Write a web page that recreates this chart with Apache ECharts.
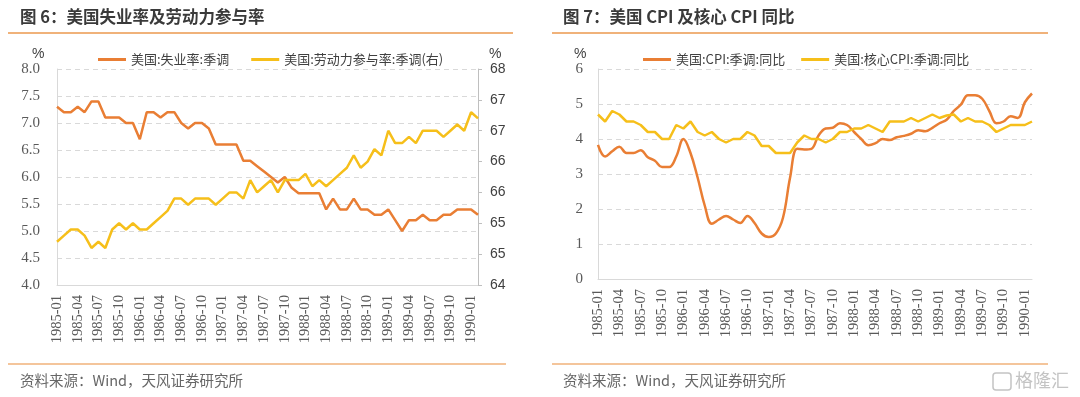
<!DOCTYPE html>
<html>
<head>
<meta charset="utf-8">
<script src="https://cdn.jsdelivr.net/npm/echarts@6/dist/echarts.min.js"></script>
<style>
  html, body { margin: 0; padding: 0; background: #fff; }
  #main { width: 1080px; height: 397px; }
</style>
</head>
<body>
<div id="main"></div>
<script>
// 月度类目 1985-01 ~ 1990-02
const months = [
  "1985-01","1985-02","1985-03","1985-04","1985-05","1985-06","1985-07","1985-08","1985-09","1985-10","1985-11","1985-12",
  "1986-01","1986-02","1986-03","1986-04","1986-05","1986-06","1986-07","1986-08","1986-09","1986-10","1986-11","1986-12",
  "1987-01","1987-02","1987-03","1987-04","1987-05","1987-06","1987-07","1987-08","1987-09","1987-10","1987-11","1987-12",
  "1988-01","1988-02","1988-03","1988-04","1988-05","1988-06","1988-07","1988-08","1988-09","1988-10","1988-11","1988-12",
  "1989-01","1989-02","1989-03","1989-04","1989-05","1989-06","1989-07","1989-08","1989-09","1989-10","1989-11","1989-12",
  "1990-01","1990-02"
];

// 图6
const unemployment = [
  7.3,7.2,7.2,7.3,7.2,7.4,7.4,7.1,7.1,7.1,7.0,7.0,
  6.7,7.2,7.2,7.1,7.2,7.2,7.0,6.9,7.0,7.0,6.9,6.6,
  6.6,6.6,6.6,6.3,6.3,6.2,6.1,6.0,5.9,6.0,5.8,5.7,
  5.7,5.7,5.7,5.4,5.6,5.4,5.4,5.6,5.4,5.4,5.3,5.3,
  5.4,5.2,5.0,5.2,5.2,5.3,5.2,5.2,5.3,5.3,5.4,5.4,
  5.4,5.3
];
const participation = [
  64.7,64.8,64.9,64.9,64.8,64.6,64.7,64.6,64.9,65.0,64.9,65.0,
  64.9,64.9,65.0,65.1,65.2,65.4,65.4,65.3,65.4,65.4,65.4,65.3,
  65.4,65.5,65.5,65.4,65.7,65.5,65.6,65.7,65.5,65.7,65.7,65.7,
  65.8,65.6,65.7,65.6,65.7,65.8,65.9,66.1,65.9,66.0,66.2,66.1,
  66.5,66.3,66.3,66.4,66.3,66.5,66.5,66.5,66.4,66.5,66.6,66.5,
  66.8,66.7
];

// 图7
const cpiYoy = [
  3.83,3.5,3.65,3.78,3.6,3.6,3.68,3.48,3.38,3.2,3.2,3.5,
  4.0,3.6,2.9,2.1,1.58,1.7,1.8,1.7,1.6,1.8,1.6,1.3,
  1.2,1.3,1.75,2.9,3.72,3.7,3.72,4.1,4.3,4.32,4.45,4.4,
  4.2,4.0,3.82,3.88,4.0,3.97,4.05,4.09,4.15,4.25,4.22,4.32,
  4.45,4.55,4.8,4.98,5.25,5.25,5.15,4.8,4.45,4.5,4.65,4.6,
  5.05,5.3
];
const coreCpiYoy = [
  4.7,4.5,4.8,4.7,4.5,4.5,4.4,4.2,4.2,4.0,
  4.0,4.4,4.3,4.5,4.2,4.1,4.2,4.0,3.9,4.0,
  4.0,4.2,4.1,3.8,3.8,3.6,3.6,3.6,3.9,4.1,
  4.0,4.0,3.9,4.0,4.2,4.2,4.3,4.3,4.4,4.3,
  4.2,4.5,4.5,4.5,4.6,4.5,4.6,4.7,4.6,4.67,
  4.7,4.5,4.6,4.5,4.5,4.4,4.2,4.3,4.4,4.4,
  4.4,4.5
];

const ORANGE = "#E97E34";
const YELLOW = "#F6BF1A";
const GRID_LINE = "#D9D9D9";
const SERIF = "Liberation Serif";
const CJK = "Noto Sans CJK SC";

function xAxisFor(gridIndex) {
  return {
    type: "category",
    gridIndex: gridIndex,
    data: months,
    boundaryGap: false,
    axisLine: { lineStyle: { color: GRID_LINE } },
    axisTick: { show: false },
    axisLabel: {
      interval: 2,
      rotate: 90,
      margin: 10,
      color: "#595959",
      fontFamily: SERIF,
      fontSize: 14.5
    }
  };
}

const dashed = { show: true, lineStyle: { color: GRID_LINE, type: [5, 4], width: 1 } };
const legendText = { fontFamily: CJK, fontSize: 13, color: "#404040" };

let myChart = echarts.init(document.getElementById("main"));
myChart.setOption({
  animation: false,
  textStyle: { fontFamily: CJK },
  grid: [
    { left: 57, right: 602, top: 69, bottom: 112 },
    { left: 598, right: 48, top: 69, bottom: 118 }
  ],
  legend: [
    {
      left: 93, top: 48, icon: "rect", itemWidth: 28, itemHeight: 3, itemGap: 22,
      data: ["美国:失业率:季调", "美国:劳动力参与率:季调(右)"], textStyle: legendText
    },
    {
      left: 638, top: 48, icon: "rect", itemWidth: 28, itemHeight: 3, itemGap: 16,
      data: ["美国:CPI:季调:同比", "美国:核心CPI:季调:同比"], textStyle: legendText
    }
  ],
  xAxis: [xAxisFor(0), xAxisFor(1)],
  yAxis: [
    {
      type: "value", gridIndex: 0, min: 4, max: 8, interval: 0.5,
      axisLine: { show: true, lineStyle: { color: GRID_LINE } },
      axisTick: { show: false },
      splitLine: dashed,
      axisLabel: {
        margin: 17, color: "#595959", fontFamily: SERIF, fontSize: 15,
        formatter: v => v.toFixed(1)
      }
    },
    {
      type: "value", gridIndex: 0, position: "right", min: 64, max: 67.5, interval: 0.5,
      axisLine: { show: true, lineStyle: { color: "#BFBFBF" } },
      axisTick: { show: true, length: 4, lineStyle: { color: "#BFBFBF" } },
      splitLine: { show: false },
      axisLabel: {
        margin: 12, color: "#404040", fontFamily: "Liberation Sans", fontSize: 14,
        formatter: v => String(Math.round(v))
      }
    },
    {
      type: "value", gridIndex: 1, min: 0, max: 6, interval: 1,
      axisLine: { show: true, lineStyle: { color: GRID_LINE } },
      axisTick: { show: false },
      splitLine: dashed,
      axisLabel: { margin: 15, color: "#595959", fontFamily: SERIF, fontSize: 15 }
    }
  ],
  series: [
    {
      name: "美国:失业率:季调", type: "line", xAxisIndex: 0, yAxisIndex: 0,
      data: unemployment, showSymbol: false, lineStyle: { width: 2.5, color: ORANGE },
      itemStyle: { color: ORANGE }
    },
    {
      name: "美国:劳动力参与率:季调(右)", type: "line", xAxisIndex: 0, yAxisIndex: 1,
      data: participation, showSymbol: false, lineStyle: { width: 2.5, color: YELLOW },
      itemStyle: { color: YELLOW }
    },
    {
      name: "美国:CPI:季调:同比", type: "line", xAxisIndex: 1, yAxisIndex: 2,
      data: cpiYoy, showSymbol: false, smooth: 0.4, lineStyle: { width: 2.5, color: ORANGE },
      itemStyle: { color: ORANGE }
    },
    {
      name: "美国:核心CPI:季调:同比", type: "line", xAxisIndex: 1, yAxisIndex: 2,
      data: coreCpiYoy, showSymbol: false, lineStyle: { width: 2.5, color: YELLOW },
      itemStyle: { color: YELLOW }
    }
  ],
  graphic: [
    // 标题
    { type: "text", left: 20, top: 8, style: { text: "图 6：美国失业率及劳动力参与率", font: "bold 16.5px 'Noto Sans CJK SC'", fill: "#3a3a3a" } },
    { type: "text", left: 563, top: 8, style: { text: "图 7：美国 CPI 及核心 CPI 同比", font: "bold 16.5px 'Noto Sans CJK SC'", fill: "#3a3a3a" } },
    // 分隔线
    { type: "line", shape: { x1: 8, y1: 33, x2: 513, y2: 33 }, style: { stroke: "#F0B27A", lineWidth: 2 } },
    { type: "line", shape: { x1: 552, y1: 33, x2: 1048, y2: 33 }, style: { stroke: "#F0B27A", lineWidth: 2 } },
    { type: "line", shape: { x1: 8, y1: 364, x2: 506, y2: 364 }, style: { stroke: "#F0B27A", lineWidth: 1.5 } },
    { type: "line", shape: { x1: 552, y1: 364, x2: 1048, y2: 364 }, style: { stroke: "#F0B27A", lineWidth: 1.5 } },
    // 单位
    { type: "text", left: 32, top: 47, style: { text: "%", font: "14px 'Liberation Sans'", fill: "#404040" } },
    { type: "text", left: 489, top: 47, style: { text: "%", font: "14px 'Liberation Sans'", fill: "#404040" } },
    { type: "text", left: 574, top: 47, style: { text: "%", font: "14px 'Liberation Sans'", fill: "#404040" } },
    // 资料来源
    { type: "text", left: 20, top: 373, style: { text: "资料来源：Wind，天风证券研究所", font: "14.5px 'Noto Sans CJK SC'", fill: "#666666" } },
    { type: "text", left: 563, top: 373, style: { text: "资料来源：Wind，天风证券研究所", font: "14.5px 'Noto Sans CJK SC'", fill: "#666666" } },
    // 水印
    { type: "rect", shape: { x: 993, y: 373, width: 18, height: 17, r: 3 }, style: { stroke: "#c4c4c4", fill: "none", lineWidth: 1.5 } },
    { type: "text", left: 1015, top: 371, style: { text: "格隆汇", font: "18px 'Noto Sans CJK SC'", fill: "#c4c4c4" } }
  ]
});
</script>
</body>
</html>
